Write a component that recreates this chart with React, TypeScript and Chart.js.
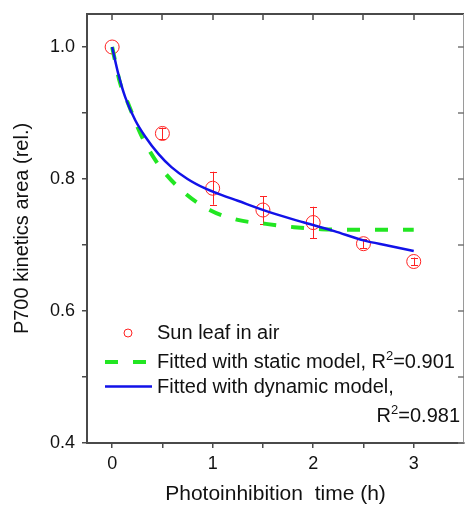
import React, { useEffect, useRef } from "react";
import { Chart, registerables } from "chart.js";

Chart.register(...registerables);

const FONT = "'Liberation Sans', Arial, Helvetica, sans-serif";

// Measured points (Sun leaf in air)
const TIME = [0, 0.5, 1, 1.5, 2, 2.5, 3];
const AREA = [1.0, 0.869, 0.786, 0.753, 0.734, 0.702, 0.675];
const ERR = [0, 0.009, 0.025, 0.021, 0.024, 0.007, 0.006];

// Static-model fit
const STATIC_X = [0, 0.08, 0.16, 0.29, 0.46, 0.69, 0.97, 1.25, 1.53, 1.81, 2.08, 2.4, 2.7, 3.0];
const STATIC_Y = [1.0, 0.945, 0.914, 0.866, 0.822, 0.783, 0.753, 0.738, 0.732, 0.727, 0.724, 0.723, 0.723, 0.723];

// Dynamic-model fit
const DYN_X = [0, 0.06, 0.13, 0.23, 0.33, 0.46, 0.59, 0.75, 0.92, 1.0, 1.25, 1.58, 1.91, 2.21, 2.5, 2.75, 3.0];
const DYN_Y = [1.0, 0.96, 0.924, 0.889, 0.864, 0.838, 0.818, 0.8, 0.786, 0.781, 0.767, 0.749, 0.734, 0.721, 0.707, 0.699, 0.691];

const X_TICKS = [0, 0.5, 1, 1.5, 2, 2.5, 3];
const X_LABELS = ["0", "", "1", "", "2", "", "3"];
const Y_TICKS = [0.4, 0.5, 0.6, 0.7, 0.8, 0.9, 1.0];
const Y_LABELS = ["0.4", "", "0.6", "", "0.8", "", "1.0"];

const SERIES_NAMES = ["Sun leaf in air", "Fitted with static model, ", "Fitted with dynamic model,"];
const R2_VALUES = ["0.901", "0.981"];

const X_TITLE = "Photoinhibition  time (h)";
const Y_TITLE = "P700 kinetics area (rel.)";

const RED = "#ff2222";
const GREEN = "#22e622";
const BLUE = "#1212e8";
const AXIS = "#4a4a4a";
const TEXT = "#111111";

const errorBarPlugin = {
  id: "errorBars",
  beforeDatasetsDraw(chart: any) {
    const { ctx, scales } = chart;
    const xs = scales.x;
    const ys = scales.y;
    ctx.save();
    ctx.strokeStyle = RED;
    ctx.lineWidth = 1;
    TIME.forEach((t, i) => {
      const e = ERR[i];
      if (!e) return;
      const px = Math.round(xs.getPixelForValue(t)) + 0.5;
      const y1 = ys.getPixelForValue(AREA[i] + e);
      const y2 = ys.getPixelForValue(AREA[i] - e);
      ctx.beginPath();
      ctx.moveTo(px, y1);
      ctx.lineTo(px, y2);
      ctx.moveTo(px - 3.5, Math.round(y1) + 0.5);
      ctx.lineTo(px + 3.5, Math.round(y1) + 0.5);
      ctx.moveTo(px - 3.5, Math.round(y2) + 0.5);
      ctx.lineTo(px + 3.5, Math.round(y2) + 0.5);
      ctx.stroke();
    });
    ctx.restore();
  },
};

const framePlugin = {
  id: "frame",
  afterDraw(chart: any) {
    const { ctx, chartArea, scales } = chart;
    const { left, right, top, bottom } = chartArea;
    ctx.save();
    // top border + inward ticks
    ctx.strokeStyle = AXIS;
    ctx.lineWidth = 2;
    ctx.beginPath();
    ctx.moveTo(left - 1, top);
    ctx.lineTo(right, top);
    ctx.stroke();
    ctx.lineWidth = 1.5;
    ctx.beginPath();
    X_TICKS.forEach((v) => {
      const px = Math.round(scales.x.getPixelForValue(v));
      ctx.moveTo(px, top);
      ctx.lineTo(px, top + 6);
    });
    ctx.stroke();
    // right border + inward ticks
    ctx.strokeStyle = "#9a9a9a";
    ctx.lineWidth = 1;
    ctx.beginPath();
    ctx.moveTo(right - 0.5, top);
    ctx.lineTo(right - 0.5, bottom);
    ctx.stroke();
    ctx.strokeStyle = "#777";
    ctx.lineWidth = 1.5;
    ctx.beginPath();
    Y_TICKS.forEach((v) => {
      const py = Math.round(scales.y.getPixelForValue(v));
      ctx.moveTo(right, py);
      ctx.lineTo(right - 6, py);
    });
    ctx.stroke();
    ctx.restore();
  },
};

function drawR2(ctx: CanvasRenderingContext2D, x: number, y: number, value: string) {
  ctx.font = `20px ${FONT}`;
  ctx.fillText("R", x, y);
  const rw = ctx.measureText("R").width;
  ctx.font = `13px ${FONT}`;
  ctx.fillText("2", x + rw, y - 8);
  const sw = ctx.measureText("2").width;
  ctx.font = `20px ${FONT}`;
  ctx.fillText("=" + value, x + rw + sw, y);
}

function r2Width(ctx: CanvasRenderingContext2D, value: string) {
  ctx.font = `20px ${FONT}`;
  const a = ctx.measureText("R").width + ctx.measureText("=" + value).width;
  ctx.font = `13px ${FONT}`;
  const b = ctx.measureText("2").width;
  return a + b;
}

const legendPlugin = {
  id: "customLegend",
  afterDraw(chart: any) {
    const { ctx, chartArea } = chart;
    const L = chartArea.left;
    const T = chartArea.top;
    const textX = L + 70;
    ctx.save();
    ctx.textBaseline = "alphabetic";
    ctx.textAlign = "left";
    ctx.fillStyle = TEXT;

    // entry 1: marker
    ctx.strokeStyle = RED;
    ctx.lineWidth = 1;
    ctx.beginPath();
    ctx.arc(L + 41, T + 319, 4, 0, Math.PI * 2);
    ctx.stroke();
    ctx.font = `20px ${FONT}`;
    ctx.fillText(SERIES_NAMES[0], textX, T + 325);

    // entry 2: dashed green
    ctx.strokeStyle = GREEN;
    ctx.lineWidth = 4;
    ctx.setLineDash([13, 15]);
    ctx.beginPath();
    ctx.moveTo(L + 18, T + 348);
    ctx.lineTo(L + 60, T + 348);
    ctx.stroke();
    ctx.setLineDash([]);
    ctx.font = `20px ${FONT}`;
    ctx.fillText(SERIES_NAMES[1], textX, T + 354);
    const w1 = ctx.measureText(SERIES_NAMES[1]).width;
    drawR2(ctx, textX + w1, T + 354, R2_VALUES[0]);

    // entry 3: solid blue
    ctx.strokeStyle = BLUE;
    ctx.lineWidth = 2.5;
    ctx.beginPath();
    ctx.moveTo(L + 18, T + 372.5);
    ctx.lineTo(L + 65, T + 372.5);
    ctx.stroke();
    ctx.font = `20px ${FONT}`;
    ctx.fillText(SERIES_NAMES[2], textX, T + 379);
    const w2 = r2Width(ctx, R2_VALUES[1]);
    drawR2(ctx, chartArea.right - 4 - w2, T + 407.5, R2_VALUES[1]);
    ctx.restore();
  },
};

function zeroPad(s: any) {
  s.paddingTop = 0;
  s.paddingBottom = 0;
  s.paddingLeft = 0;
  s.paddingRight = 0;
}

export default function App() {
  const canvasRef = useRef<HTMLCanvasElement | null>(null);

  useEffect(() => {
    if (!canvasRef.current) return;
    Chart.defaults.font.family = FONT;
    Chart.defaults.color = TEXT;

    const chart = new Chart(canvasRef.current, {
      type: "line",
      data: {
        datasets: [
          {
            label: SERIES_NAMES[2],
            data: DYN_X.map((x, i) => ({ x, y: DYN_Y[i] })),
            borderColor: BLUE,
            borderWidth: 2.5,
            pointRadius: 0,
            fill: false,
            cubicInterpolationMode: "monotone",
            order: 1,
          },
          {
            label: SERIES_NAMES[1],
            data: STATIC_X.map((x, i) => ({ x, y: STATIC_Y[i] })),
            borderColor: GREEN,
            borderWidth: 4,
            borderDash: [13, 15],
            pointRadius: 0,
            fill: false,
            cubicInterpolationMode: "monotone",
            order: 2,
          },
          {
            label: SERIES_NAMES[0],
            data: TIME.map((x, i) => ({ x, y: AREA[i] })),
            showLine: false,
            pointRadius: 7,
            pointStyle: "circle",
            pointBorderColor: RED,
            pointBackgroundColor: "rgba(0,0,0,0)",
            pointBorderWidth: 1,
            borderColor: RED,
            order: 3,
          },
        ],
      },
      options: {
        responsive: false,
        animation: false,
        devicePixelRatio: 1,
        layout: { autoPadding: false, padding: { top: 14, right: 1, left: 0, bottom: 0 } },
        plugins: {
          legend: { display: false },
          tooltip: { enabled: false },
        },
        scales: {
          x: {
            type: "linear",
            min: -0.25,
            max: 3.5,
            afterBuildTicks: (s: any) => {
              s.ticks = X_TICKS.map((v) => ({ value: v }));
            },
            afterFit: (s: any) => {
              s.height = 64;
              zeroPad(s);
            },
            ticks: {
              autoSkip: false,
              maxRotation: 0,
              padding: 5,
              color: TEXT,
              font: { size: 18, family: FONT },
              callback: (v: any) => X_LABELS[X_TICKS.indexOf(Number(v))] ?? "",
            },
            grid: {
              display: true,
              drawOnChartArea: false,
              drawTicks: true,
              tickLength: 5,
              color: AXIS,
              lineWidth: 1.5,
            },
            border: { display: true, color: AXIS, width: 2 },
            title: {
              display: true,
              text: X_TITLE,
              color: TEXT,
              font: { size: 21, family: FONT },
              padding: { top: 0, bottom: 0 },
            },
          },
          y: {
            type: "linear",
            min: 0.4,
            max: 1.05,
            afterBuildTicks: (s: any) => {
              s.ticks = Y_TICKS.map((v) => ({ value: v }));
            },
            afterFit: (s: any) => {
              s.width = 87;
              zeroPad(s);
            },
            ticks: {
              autoSkip: false,
              padding: 7,
              color: TEXT,
              font: { size: 18, family: FONT },
              callback: (v: any) => {
                const idx = Y_TICKS.findIndex((t) => Math.abs(t - Number(v)) < 1e-6);
                return idx >= 0 ? Y_LABELS[idx] : "";
              },
            },
            grid: {
              display: true,
              drawOnChartArea: false,
              drawTicks: true,
              tickLength: 5,
              color: AXIS,
              lineWidth: 1.5,
            },
            border: { display: true, color: AXIS, width: 2 },
            title: {
              display: true,
              text: Y_TITLE,
              color: TEXT,
              font: { size: 20, family: FONT },
              padding: { top: 10, bottom: 10 },
            },
          },
        },
      },
      plugins: [errorBarPlugin, framePlugin, legendPlugin],
    } as any);

    return () => chart.destroy();
  }, []);

  return (
    <div style={{ position: "absolute", left: 0, top: 0, width: 465, height: 507, background: "#fff" }}>
      <canvas ref={canvasRef} width={465} height={507} style={{ display: "block" }} />
    </div>
  );
}
